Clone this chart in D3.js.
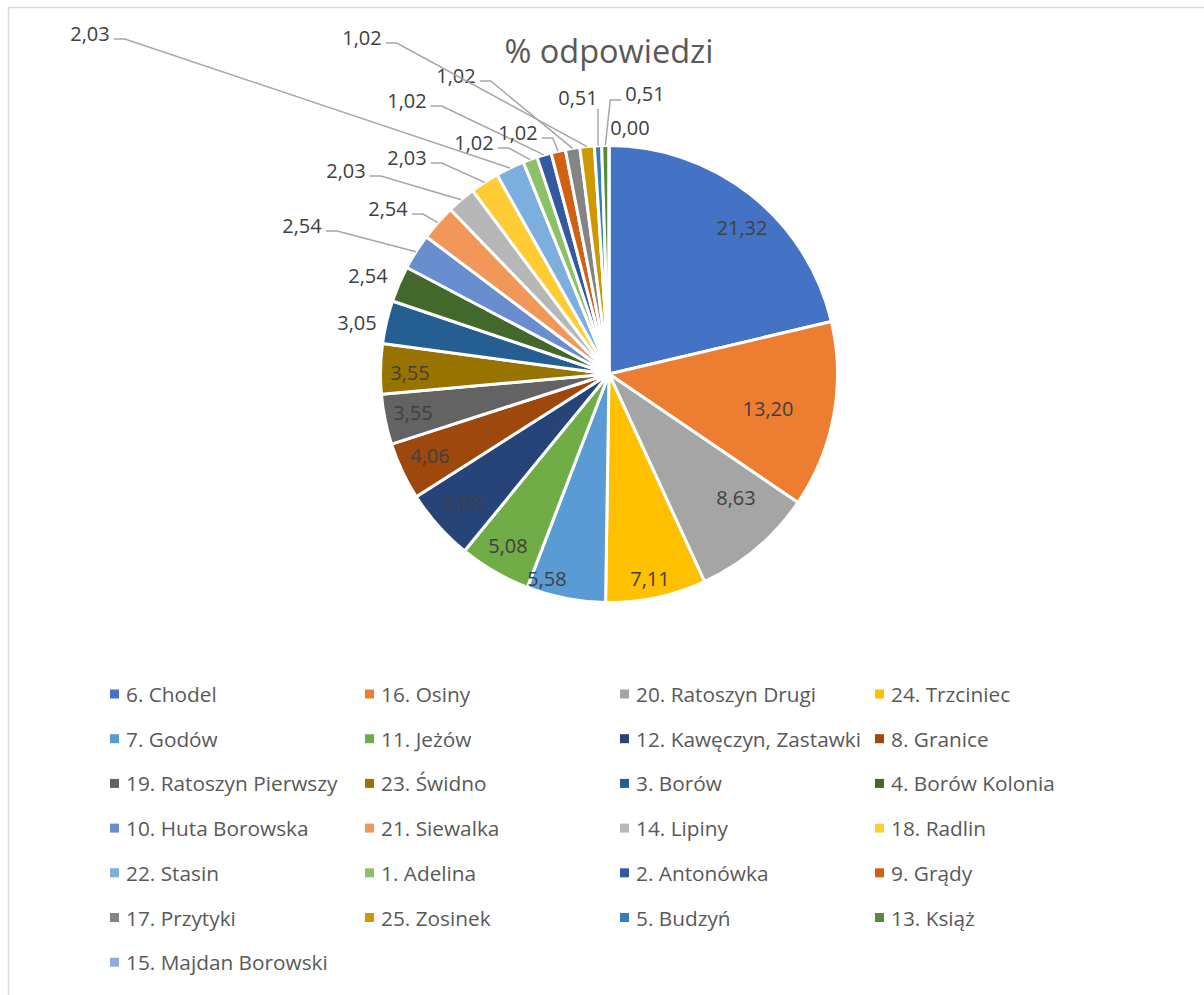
<!DOCTYPE html>
<html>
<head>
<meta charset="utf-8">
<script src="https://cdn.jsdelivr.net/npm/d3@7.9.0/dist/d3.min.js"></script>
<style>
  body { margin: 0; background: #fff; }
  svg { display: block; font-family: "Open Sans", sans-serif; }
</style>
</head>
<body>
<svg id="chart" width="1204" height="995"></svg>
<script>
// data
const names = [
  '6. Chodel', '16. Osiny', '20. Ratoszyn Drugi', '24. Trzciniec',
  '7. Godów', '11. Jeżów', '12. Kawęczyn, Zastawki', '8. Granice',
  '19. Ratoszyn Pierwszy', '23. Świdno', '3. Borów', '4. Borów Kolonia',
  '10. Huta Borowska', '21. Siewalka', '14. Lipiny', '18. Radlin',
  '22. Stasin', '1. Adelina', '2. Antonówka', '9. Grądy',
  '17. Przytyki', '25. Zosinek', '5. Budzyń', '13. Książ',
  '15. Majdan Borowski'
];
const percents = [
  21.32, 13.20, 8.63, 7.11, 5.58, 5.08, 5.08, 4.06, 3.55, 3.55,
  3.05, 2.54, 2.54, 2.54, 2.03, 2.03, 2.03, 1.02, 1.02, 1.02,
  1.02, 1.02, 0.51, 0.51, 0.00
];
const sliceColors = [
  '#4472C4', '#ED7D31', '#A5A5A5', '#FFC000', '#5B9BD5', '#70AD47',
  '#264478', '#9E480E', '#636363', '#997300', '#255E91', '#43682B',
  '#698ED0', '#F1975A', '#B7B7B7', '#FFCD33', '#7CAFDD', '#8CC168',
  '#335AA1', '#D26012', '#848484', '#CC9A00', '#327DC2', '#5A8A39',
  '#8FAADC'
];

// where Excel put each data label (text centre) and how its leader runs
const labelAt = [
  [742, 227, ''], [768, 408, ''], [736, 497, ''], [650, 578, ''],
  [547, 578, ''], [508, 545, ''], [463, 502, ''], [430, 455, ''],
  [413, 412, ''], [410, 372, ''], [357, 322, ''], [368, 275, ''],
  [302, 225, 'L'], [388, 208, 'L'], [346, 170, 'L'], [407, 157, 'L'],
  [90, 33, 'L'], [474, 142, 'L'], [407, 100, 'L'], [518, 132, 'L'],
  [456, 75, 'L'], [362, 37, 'L'], [578, 97, 'D'], [645, 93, 'R'],
  [630, 127, '']
];

const svg = d3.select('#chart');
const cx = 609, cy = 374, R = 228.5;

// chart frame (cut off on the right and bottom like the screenshot)
svg.append('rect')
  .attr('x', 8.5).attr('y', 7.5)
  .attr('width', 1400).attr('height', 1200)
  .attr('fill', 'none').attr('stroke', '#D9D9D9').attr('stroke-width', 1.5);

svg.append('text')
  .attr('x', cx).attr('y', 63)
  .attr('text-anchor', 'middle')
  .attr('font-size', 32.5)
  .attr('fill', '#595959')
  .text('% odpowiedzi');

const data = names.map((n, i) => ({ name: n, value: percents[i], color: sliceColors[i] }));

let pie = d3.pie().value(d => d.value).sort(null);
let arcs = pie(data);
let arcGen = d3.arc().innerRadius(0).outerRadius(R);

const g = svg.append('g').attr('transform', `translate(${cx},${cy})`);
g.selectAll('path')
  .data(arcs)
  .join('path')
  .attr('d', arcGen)
  .attr('fill', d => d.data.color)
  .attr('stroke', '#fff')
  .attr('stroke-width', 3)
  .attr('stroke-linejoin', 'round');

const fmt = v => v.toFixed(2).replace('.', ',');

// labels + leader lines
arcs.forEach((a, i) => {
  let [lx, ly, kind] = labelAt[i];
  let txt = fmt(a.data.value);
  let t = svg.append('text')
    .attr('x', lx).attr('y', ly)
    .attr('text-anchor', 'middle')
    .attr('dominant-baseline', 'central')
    .attr('font-size', 20)
    .attr('fill', '#404040')
    .text(txt);
  if (!kind) return;
  let w = t.node().getBBox().width;
  let mid = (a.startAngle + a.endAngle) / 2;
  let tx = cx + R * Math.sin(mid), ty = cy - R * Math.cos(mid);
  let pts;
  if (kind === 'L') {
    let sx = lx + w / 2 + 4, sy = ly + 6;
    pts = [[sx, sy], [sx + 11, sy], [tx, ty]];
  } else if (kind === 'R') {
    let sx = lx - w / 2 - 4, sy = ly + 7;
    pts = [[sx, sy], [sx - 11, sy], [tx, ty]];
  } else {
    pts = [[tx, ly + 12], [tx, ty]];
  }
  svg.append('path')
    .attr('d', d3.line()(pts))
    .attr('fill', 'none')
    .attr('stroke', '#A6A6A6')
    .attr('stroke-width', 1.5);
});

// legend: 4 columns
const legend = svg.append('g');
data.forEach((d, i) => {
  let col = i % 4, row = Math.floor(i / 4);
  let x = 126 + col * 255, y = 694 + row * 44.7;
  legend.append('rect')
    .attr('x', x - 16).attr('y', y - 4.5)
    .attr('width', 9).attr('height', 9)
    .attr('fill', d.color);
  legend.append('text')
    .attr('x', x).attr('y', y)
    .attr('dominant-baseline', 'central')
    .attr('font-size', 20.8)
    .attr('fill', '#595959')
    .text(d.name);
});
</script>
</body>
</html>
